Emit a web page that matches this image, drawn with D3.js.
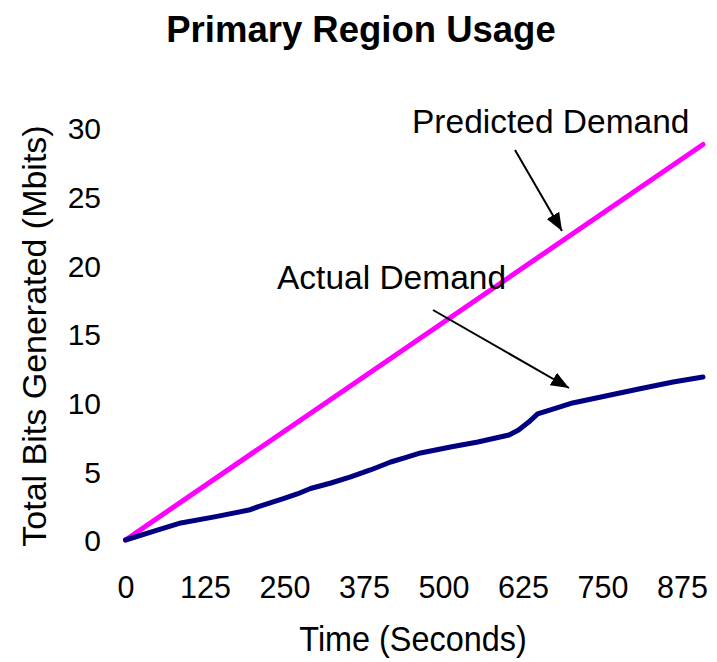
<!DOCTYPE html>
<html>
<head>
<meta charset="utf-8">
<script src="https://cdn.jsdelivr.net/npm/d3@7/dist/d3.min.js"></script>
<style>
  html, body { margin: 0; padding: 0; background: #fff; }
  svg { display: block; font-family: "Liberation Sans", Arial, sans-serif; }
</style>
</head>
<body>
<svg id="chart" width="717" height="662"></svg>
<script>
// Elapsed time (seconds) and cumulative bits (Mbits) for the actual demand trace
const actualTime = [0, 45, 87, 142, 194, 209, 247, 270, 291, 323, 354, 385, 417, 440, 464, 511, 554, 603, 618, 634, 648, 677, 703, 755, 807, 861, 908];
const actualMbits = [0, 0.65, 1.24, 1.70, 2.18, 2.43, 2.99, 3.35, 3.75, 4.15, 4.59, 5.10, 5.68, 6.00, 6.34, 6.77, 7.14, 7.65, 8.01, 8.59, 9.18, 9.61, 9.98, 10.49, 11.00, 11.50, 11.87];

// Predicted demand grows linearly
const predictedTime = [0, 908];
const predictedMbits = [0, 28.8];

const xTicks = [0, 125, 250, 375, 500, 625, 750, 875];
const yTicks = [0, 5, 10, 15, 20, 25, 30];

const svg = d3.select("#chart");

const x = d3.scaleLinear().domain([0, 875]).range([125.5, 682]);
const y = d3.scaleLinear().domain([0, 30]).range([540, 128]);

// Title
svg.append("text")
  .attr("x", 361).attr("y", 42)
  .attr("text-anchor", "middle")
  .attr("font-size", 36.5).attr("font-weight", "bold")
  .text("Primary Region Usage");

// Axes: labels only, no domain line or tick marks
const xAxis = svg.append("g")
  .attr("transform", "translate(0,598)")
  .call(d3.axisBottom(x).tickValues(xTicks).tickSize(0).tickPadding(0));
xAxis.select(".domain").remove();
xAxis.selectAll("text")
  .attr("font-size", 30.5).attr("font-family", "Liberation Sans, Arial")
  .attr("fill", "#000").attr("dy", 0);

const yAxis = svg.append("g")
  .attr("transform", "translate(101,0)")
  .call(d3.axisLeft(y).tickValues(yTicks).tickSize(0).tickPadding(0));
yAxis.select(".domain").remove();
yAxis.selectAll("text")
  .attr("font-size", 30).attr("font-family", "Liberation Sans, Arial")
  .attr("fill", "#000").attr("dy", "0.36em");

// Axis titles
svg.append("text")
  .attr("transform", "translate(413,651) scale(0.9,1)")
  .attr("text-anchor", "middle")
  .attr("font-size", 36)
  .text("Time (Seconds)");

svg.append("text")
  .attr("transform", "translate(46,336) rotate(-90)")
  .attr("text-anchor", "middle")
  .attr("font-size", 34)
  .text("Total Bits Generated (Mbits)");

// Series lines
const line = d3.line().x(d => x(d[0])).y(d => y(d[1]));

svg.append("path")
  .datum(d3.zip(predictedTime, predictedMbits))
  .attr("fill", "none").attr("stroke", "#ff00ff")
  .attr("stroke-width", 5).attr("stroke-linecap", "round")
  .attr("d", line);

svg.append("path")
  .datum(d3.zip(actualTime, actualMbits))
  .attr("fill", "none").attr("stroke", "#000080")
  .attr("stroke-width", 5).attr("stroke-linecap", "round").attr("stroke-linejoin", "round")
  .attr("d", line);

// Annotation arrows
const defs = svg.append("defs");
defs.append("marker")
  .attr("id", "arrowhead")
  .attr("viewBox", "0 0 10 10")
  .attr("refX", 10).attr("refY", 5)
  .attr("markerWidth", 18).attr("markerHeight", 18)
  .attr("markerUnits", "userSpaceOnUse")
  .attr("orient", "auto")
  .append("path").attr("d", "M0,1 L10,5 L0,9 Z").attr("fill", "#000");

svg.append("line")
  .attr("x1", 515).attr("y1", 150).attr("x2", 562).attr("y2", 231)
  .attr("stroke", "#000").attr("stroke-width", 2)
  .attr("marker-end", "url(#arrowhead)");

svg.append("line")
  .attr("x1", 433).attr("y1", 310).attr("x2", 569).attr("y2", 388)
  .attr("stroke", "#000").attr("stroke-width", 2)
  .attr("marker-end", "url(#arrowhead)");

// Annotation labels
svg.append("text")
  .attr("x", 412).attr("y", 133)
  .attr("font-size", 33.5)
  .text("Predicted Demand");

svg.append("text")
  .attr("x", 277).attr("y", 289)
  .attr("font-size", 33.5)
  .text("Actual Demand");
</script>
</body>
</html>
